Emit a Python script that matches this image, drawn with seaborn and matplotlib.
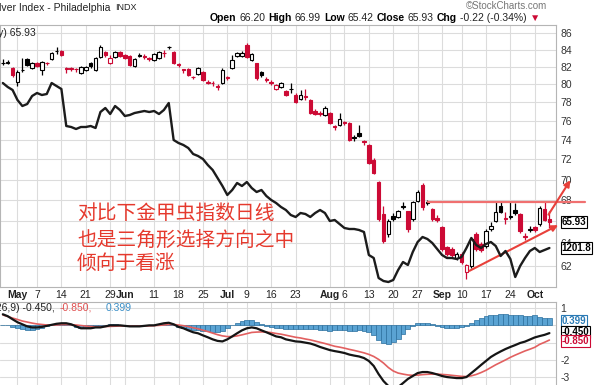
import matplotlib
matplotlib.use("Agg")
import matplotlib.pyplot as plt
import numpy as np
import pandas as pd
import seaborn as sns

# trading days on the chart (Apr 26 - Oct 4, 2018)
holidays = ["2018-05-28", "2018-07-04", "2018-09-03"]
dates = pd.bdate_range("2018-04-26", "2018-10-04")
dates = dates[~dates.isin(pd.to_datetime(holidays))]

opens = [82.4, 82.5, 81.86, 80.28, 81.6, 82.9, 81.86, 82.44, 81.64, 82.5, 82.9, 83.8, 83.84,
         81.9, 81.86, 81.8, 81.3, 81.64, 82.44, 81.64, 83.14, 83.72, 82.44, 83.14, 83.72, 83.37,
         83.25, 82.09, 83.3, 83.3, 83.0, 82.79, 83.02, 83.65, 84.3, 83.72, 82.3, 81.7, 81.75,
         80.9, 81.18, 81.41, 80.2, 80.2, 79.8, 80.17, 80.7, 81.86, 83.25, 83.3, 84.56, 82.79,
         82.44, 81.41, 80.6, 80.3, 79.5, 79.72, 79.28, 79.45, 78.84, 78.4, 78.7, 78.29, 77.1,
         76.9, 76.67, 76.88, 75.5, 75.6, 75.9, 75.81, 74.3, 74.76, 73.9, 73.51, 71.98, 69.8,
         66.66, 64.82, 66.47, 66.38, 67.35, 66.94, 66.19, 67.9, 69.51, 67.75, 67.13, 66.3, 65.46,
         63.65, 63.5, 62.7, 63.03, 61.5, 61.98, 64.82, 63.92, 63.74, 65.28, 66.01, 67.41, 66.3,
         66.45, 67.1, 66.66, 64.6, 65.2, 65.45, 65.8, 67.13, 66.20]
highs = [82.9, 82.8, 82.0, 81.6, 83.0, 83.0, 82.6, 82.6, 82.7, 82.6, 83.7, 84.3, 84.0,
         82.0, 82.0, 81.9, 82.1, 82.1, 82.6, 83.1, 84.6, 83.9, 83.37, 83.9, 83.9, 83.5,
         83.4, 83.0, 83.6, 83.5, 83.1, 83.6, 83.8, 84.0, 84.5, 83.8, 82.4, 81.8, 81.9,
         81.0, 82.0, 81.5, 80.5, 80.4, 80.0, 81.86, 81.0, 83.37, 83.7, 83.8, 84.8, 83.6,
         82.5, 81.5, 80.8, 80.5, 80.1, 80.3, 79.4, 80.17, 79.0, 79.4, 79.5, 78.4, 77.3,
         77.1, 77.6, 77.0, 75.6, 76.88, 76.0, 75.9, 74.5, 75.6, 74.0, 73.6, 72.1, 69.9,
         67.41, 66.2, 66.8, 67.1, 67.8, 67.0, 67.9, 69.0, 69.7, 68.0, 67.3, 66.6, 65.6,
         63.8, 63.7, 63.2, 63.2, 62.2, 64.6, 65.0, 64.1, 65.3, 65.9, 67.8, 67.8, 66.84,
         67.79, 67.7, 66.8, 64.9, 65.6, 65.6, 67.4, 67.79, 66.99]
lows = [82.2, 82.3, 80.9, 79.8, 81.4, 82.1, 81.8, 82.0, 81.07, 82.2, 82.8, 83.5, 83.3,
        81.3, 81.5, 81.4, 81.2, 81.5, 81.9, 81.5, 83.0, 83.2, 82.3, 83.0, 83.2, 82.9,
        82.1, 82.0, 83.1, 82.9, 82.7, 82.7, 82.9, 83.1, 84.1, 82.3, 82.0, 81.3, 81.0,
        80.6, 81.1, 80.4, 80.0, 79.8, 79.39, 80.0, 80.5, 81.7, 83.1, 83.2, 83.0, 82.7,
        80.5, 80.9, 80.3, 79.9, 79.4, 79.6, 78.7, 79.06, 77.9, 78.3, 78.3, 76.7, 76.6,
        76.5, 76.5, 75.7, 75.0, 75.5, 75.6, 73.9, 73.9, 74.3, 73.5, 71.5, 70.5, 66.0,
        64.0, 64.6, 66.0, 66.3, 67.2, 65.0, 66.0, 67.8, 67.1, 67.5, 66.0, 65.9, 63.3,
        62.9, 62.8, 62.5, 62.2, 60.86, 61.8, 63.3, 63.2, 63.6, 65.1, 65.9, 66.8, 65.73,
        66.2, 66.6, 64.9, 64.3, 65.0, 65.0, 65.6, 66.0, 65.42]
closes = [82.5, 82.55, 81.07, 81.41, 81.64, 82.2, 82.44, 82.1, 82.55, 82.4, 83.61, 83.84, 83.37,
          81.8, 81.75, 81.7, 81.98, 82.0, 82.1, 83.02, 84.33, 83.37, 83.02, 83.72, 83.3, 83.02,
          82.21, 82.9, 83.37, 83.2, 82.9, 83.49, 83.72, 83.6, 84.35, 82.44, 82.2, 81.6, 81.07,
          80.84, 81.86, 80.51, 80.28, 80.17, 79.72, 81.64, 80.84, 82.79, 83.61, 83.65, 83.14, 83.49,
          80.73, 81.07, 80.51, 80.17, 79.95, 80.17, 78.84, 79.5, 78.07, 78.8, 78.6, 76.88, 76.8,
          76.75, 77.42, 75.81, 75.39, 76.2, 75.81, 74.03, 74.2, 74.45, 73.82, 71.68, 70.68, 66.19,
          64.19, 66.01, 66.19, 66.94, 67.45, 65.28, 67.79, 68.83, 67.31, 67.79, 66.19, 66.1, 63.47,
          63.03, 63.0, 63.03, 62.3, 62.1, 64.37, 63.47, 63.4, 65.09, 65.55, 66.84, 66.9, 66.2,
          66.47, 66.8, 65.09, 64.7, 65.3, 65.25, 67.22, 66.15, 65.93]
chg_text = "-0.22 (-0.34%)"

# overlay line (gold price)
gold = [1333.8, 1330.6, 1328.2, 1320.2, 1315.4, 1317.0, 1323.4, 1325.8, 1324.2, 1325.0,
        1333.8, 1331.4, 1329.0, 1299.4, 1298.6, 1297.0, 1298.6, 1298.6, 1299.4, 1297.8,
        1310.6, 1313.8, 1309.0, 1315.4, 1312.2, 1307.4, 1308.2, 1309.8, 1310.6, 1311.4,
        1310.6, 1311.4, 1309.0, 1312.2, 1317.8, 1288.2, 1285.8, 1284.2, 1281.8, 1277.0,
        1275.4, 1273.0, 1268.2, 1264.2, 1257.8, 1251.4, 1244.2, 1248.2, 1253.8, 1251.4,
        1254.6, 1249.8, 1246.6, 1248.2, 1243.4, 1240.2, 1237.8, 1234.6, 1232.2, 1228.2,
        1226.6, 1229.8, 1229.0, 1226.6, 1229.8, 1232.2, 1229.8, 1223.4, 1224.2, 1221.0,
        1217.8, 1217.0, 1217.0, 1216.2, 1214.6, 1196.2, 1193.8, 1177.8, 1175.4, 1174.6,
        1176.2, 1184.2, 1190.6, 1188.2, 1198.6, 1206.6, 1210.6, 1209.0, 1205.8, 1201.0,
        1196.2, 1193.8, 1193.8, 1193.0, 1194.6, 1201.8, 1209.8, 1204.2, 1201.8, 1205.0,
        1206.6, 1203.4, 1195.4, 1199.4, 1193.0, 1178.6, 1187.4, 1193.8, 1199.4, 1201.8,
        1198.6, 1200.2, 1201.8]

macd = [0.64, 0.53, 0.35, 0.18, 0.06, -0.06, -0.12, -0.12, -0.09, -0.03, 0.03, 0.09, 0.12,
        0.12, 0.06, -0.06, -0.17, -0.17, -0.17, -0.12, -0.12, -0.06, 0.0, 0.0, 0.0, -0.03,
        -0.06, -0.06, -0.06, -0.03, 0.0, 0.0, 0.06, 0.12, 0.15, 0.06, -0.09, -0.17, -0.29,
        -0.4, -0.46, -0.58, -0.69, -0.81, -0.9, -0.93, -0.81, -0.64, -0.46, -0.29, -0.17, -0.12,
        -0.17, -0.29, -0.4, -0.52, -0.64, -0.69, -0.81, -0.87, -0.93, -0.95, -1.0, -1.05, -1.14,
        -1.25, -1.34, -1.43, -1.49, -1.54, -1.6, -1.69, -1.75, -1.8, -1.89, -2.06, -2.35, -2.82,
        -3.22, -3.51, -3.62, -3.57, -3.34, -3.1, -2.93, -2.76, -2.7, -2.7, -2.76, -2.84, -2.93,
        -2.99, -3.02, -3.05, -3.05, -2.99, -2.76, -2.53, -2.29, -2.06, -1.83, -1.66, -1.51, -1.37,
        -1.25, -1.14, -1.02, -0.94, -0.82, -0.7, -0.62, -0.55, -0.45]
signal = [0.6, 0.51, 0.42, 0.34, 0.25, 0.19, 0.13, 0.08, 0.05, 0.02, 0.02, 0.02, 0.04,
          0.04, 0.04, 0.02, -0.01, -0.04, -0.07, -0.08, -0.08, -0.07, -0.06, -0.05, -0.04, -0.04,
          -0.04, -0.04, -0.04, -0.04, -0.03, -0.02, 0.0, 0.02, 0.05, 0.05, 0.02, -0.02, -0.07,
          -0.14, -0.2, -0.28, -0.36, -0.45, -0.54, -0.61, -0.65, -0.65, -0.61, -0.55, -0.48, -0.41,
          -0.39, -0.38, -0.39, -0.42, -0.47, -0.51, -0.57, -0.63, -0.69, -0.73, -0.79, -0.84, -0.91,
          -0.98, -1.05, -1.13, -1.21, -1.26, -1.32, -1.39, -1.45, -1.52, -1.59, -1.68, -1.8, -1.97,
          -2.18, -2.44, -2.64, -2.76, -2.82, -2.87, -2.89, -2.88, -2.85, -2.83, -2.82, -2.82, -2.84,
          -2.86, -2.89, -2.92, -2.95, -2.96, -2.92, -2.84, -2.73, -2.6, -2.44, -2.28, -2.14, -2.0,
          -1.85, -1.72, -1.6, -1.48, -1.38, -1.27, -1.1, -0.98, -0.85]
macd_readout = [-0.450, -0.850, 0.399]

tick_labels = ["May", "7", "14", "21", "29", "Jun", "11", "18", "25", "Jul", "9", "16", "23",
               "Aug", "6", "13", "20", "27", "Sep", "10", "17", "24", "Oct"]
tick_dates = ["2018-05-01", "2018-05-07", "2018-05-14", "2018-05-21", "2018-05-29", "2018-06-01",
              "2018-06-11", "2018-06-18", "2018-06-25", "2018-07-02", "2018-07-09", "2018-07-16",
              "2018-07-23", "2018-08-01", "2018-08-06", "2018-08-13", "2018-08-20", "2018-08-27",
              "2018-09-04", "2018-09-10", "2018-09-17", "2018-09-24", "2018-10-01"]
months = ["May", "Jun", "Jul", "Aug", "Sep", "Oct"]
price_ticks = list(range(62, 87, 2))
hidden_price_labels = [66]   # covered by the last-close tag

# drawn-in lines: resistance level and rising support (index, value)
resistance = 67.83
support = [(95.1, 61.46), (114.3, 65.77)]
breakout = [(111.5, 66.41), (116.6, 70.16)]

notes = ["对比下金甲虫指数日线", "也是三角形选择方向之中", "倾向于看涨"]

RED = "#cc0a35"
NOTE_RED = "#e5392d"
GRID = "#dcdcdc"

sns.set_style("white")
plt.rcParams["font.family"] = ["Liberation Sans", "Noto Sans CJK SC", "DejaVu Sans"]

W, H = 600, 385
fig = plt.figure(figsize=(6, 3.85), dpi=100)

def fx(px):
    return px / W

def fy(py):
    return 1 - py / H

ax = fig.add_axes([0, fy(287), fx(556), fy(25) - fy(287)])
axm = fig.add_axes([0, 0, fx(556), fy(302)], sharex=ax)

x = np.arange(len(dates))
df = pd.DataFrame({"x": x, "open": opens, "high": highs, "low": lows, "close": closes,
                   "gold": gold, "macd": macd, "signal": signal})
df["hist"] = df["macd"] - df["signal"]
prev = df["close"].shift(1).fillna(df["open"])
cols = np.where(df["close"] >= prev, "black", RED)
hollow = df["close"] > df["open"]

ax.set_yscale("log")
ax.set_ylim(60.19, 86.97)
ax.set_xlim(-0.58, 113.35)

tick_idx = dates.get_indexer(pd.to_datetime(tick_dates))
for a in (ax, axm):
    for t in tick_idx:
        a.axvline(t, color=GRID, lw=0.8, zorder=0)
for v in price_ticks:
    ax.axhline(v, color=GRID, lw=0.8, zorder=0)

# candles
ax.vlines(df["x"], df["low"], df["high"], colors=cols, lw=0.9, zorder=2)
body_lo = np.minimum(df["open"], df["close"])
body_h = np.maximum(np.abs(df["close"] - df["open"]), 0.02)
ax.bar(df["x"], body_h, bottom=body_lo, width=0.72,
       color=np.where(hollow, "white", cols), edgecolor=cols, lw=0.8, zorder=3)

# gold overlay on its own hidden scale
ax2 = ax.twinx()
sns.lineplot(data=df, x="x", y="gold", ax=ax2, color="#1c1c1c", lw=1.7, zorder=4)
ax2.set_ylim(1170.6, 1380.2)
ax2.set_yticks([])
ax2.set_ylabel("")
ax2.set_xlabel("")
for s in ax2.spines.values():
    s.set_visible(False)

# price axis on the right (after twinx, which moves ticks left)
ax.yaxis.tick_right()
ax.yaxis.set_minor_locator(matplotlib.ticker.NullLocator())
ax.yaxis.set_minor_formatter(matplotlib.ticker.NullFormatter())
ax.set_yticks(price_ticks)
ax.set_yticklabels(["" if v in hidden_price_labels else str(v) for v in price_ticks])
ax.tick_params(axis="y", which="both", length=0, pad=3, labelsize=7.5, labelcolor="#333333",
               left=False, labelleft=False, right=True, labelright=True)
ax.set_xticks(tick_idx)
ax.set_xticklabels(tick_labels)
ax.tick_params(axis="x", length=0, pad=2.5, labelsize=7.5, labelcolor="#222222")
for lab in ax.get_xticklabels():
    if lab.get_text() in months:
        lab.set_fontweight("bold")
for s in ["left", "top", "bottom", "right"]:
    ax.spines[s].set_color("#b5b5b5")
    ax.spines[s].set_linewidth(0.8)

# drawn lines
ax.plot([87.1, 119.3], [resistance, resistance], color="#f07070", lw=1.6,
        clip_on=False, zorder=6)
ax.annotate("", xy=support[1], xytext=support[0], zorder=6, annotation_clip=False,
            arrowprops=dict(arrowstyle="-|>", color="#e8403a", lw=1.5, mutation_scale=9))
ax.annotate("", xy=breakout[1], xytext=breakout[0], zorder=6, annotation_clip=False,
            arrowprops=dict(arrowstyle="-|>", color="#e8403a", lw=1.5, mutation_scale=9))

# MACD panel
axm.bar(df["x"], df["hist"], width=1.0, color="#5aa3d3", edgecolor="#2a6f9e", lw=0.5, zorder=2)
sns.lineplot(data=df, x="x", y="signal", ax=axm, color="#e26060", lw=1.2, zorder=3)
sns.lineplot(data=df, x="x", y="macd", ax=axm, color="#151515", lw=1.6, zorder=4)
axm.set_ylim(-3.45, 1.35)
for v in [1, 0, -1, -2, -3]:
    axm.axhline(v, color=GRID, lw=0.8, zorder=0)
axm.yaxis.tick_right()
axm.set_yticks([1, -2, -3])
axm.set_yticklabels(["1", "-2", "-3"])
axm.tick_params(axis="y", length=0, pad=3, labelsize=7.5, labelcolor="#333333")
axm.tick_params(axis="x", length=0, labelbottom=False)
axm.set_xlabel("")
axm.set_ylabel("")
for s in ["left", "bottom"]:
    axm.spines[s].set_visible(False)
for s in ["top", "right"]:
    axm.spines[s].set_color("#b5b5b5")
    axm.spines[s].set_linewidth(0.8)

# value tags on the right edge
def tag(a, val, txt, color, dy=0):
    a.annotate(txt, xy=(1.0, val), xycoords=("axes fraction", "data"),
               xytext=(4, dy), textcoords="offset points", va="center", ha="left",
               fontsize=7, fontweight="bold", color=color, annotation_clip=False, zorder=10,
               bbox=dict(boxstyle="square,pad=0.1", fc="white", ec=color, lw=0.8))

tag(ax, closes[-1], f"{closes[-1]:.2f}", "black")
tag(ax2, gold[-1], f"{gold[-1]:.1f}", "black")
tag(axm, macd_readout[2], f"{macd_readout[2]:.3f}", "#2a7ab5", dy=-1.5)
tag(axm, macd_readout[0], f"{macd_readout[0]:.3f}", "black", dy=1)
tag(axm, macd_readout[1], f"{macd_readout[1]:.3f}", RED, dy=-1)

# header texts
fig.canvas.draw()
rend = fig.canvas.get_renderer()

def chain(parts, x0, y0, size, gap=3):
    xp = x0
    for s, w, c in parts:
        t = fig.text(fx(xp), fy(y0), s, fontsize=size, fontweight=w, color=c, va="center")
        xp += t.get_window_extent(rend).width + gap

fig.text(fx(110), fy(8), "Gold/Silver Index - Philadelphia", ha="right", va="center",
         fontsize=7.5, color="#222222")
fig.text(fx(115), fy(8), "INDX", ha="left", va="center", fontsize=6.5, color="#222222")
fig.text(fx(547), fy(6), "©StockCharts.com", ha="right", va="center", fontsize=7,
         color="#777777")
chain([("Open", "bold", "black"), (f"{opens[-1]:.2f}", "normal", "#222222"),
       ("High", "bold", "black"), (f"{highs[-1]:.2f}", "normal", "#222222"),
       ("Low", "bold", "black"), (f"{lows[-1]:.2f}", "normal", "#222222"),
       ("Close", "bold", "black"), (f"{closes[-1]:.2f}", "normal", "#222222"),
       ("Chg", "bold", "black"), (chg_text, "normal", "#222222"),
       ("▼", "normal", RED)], 210, 18, 7.5)
fig.text(fx(36), fy(33), "$XAU (Daily) " + f"{closes[-1]:.2f}", ha="right", va="center",
         fontsize=7.5, color="#222222")

# MACD legend
fig.text(fx(55), fy(308), f"MACD(12,26,9) {macd_readout[0]:.3f},", ha="right", va="center",
         fontsize=7.5, color="#222222")
fig.text(fx(60), fy(308), f"{macd_readout[1]:.3f},", ha="left", va="center",
         fontsize=7.5, color="#e05050")
fig.text(fx(106), fy(308), f"{macd_readout[2]:.3f}", ha="left", va="center",
         fontsize=7.5, color="#3a8fc8")

# chinese notes
for s, yy in zip(notes, [213, 240, 263]):
    fig.text(fx(77), fy(yy), s, ha="left", va="center", fontsize=14.2, color=NOTE_RED,
             family=["Noto Sans CJK SC", "DejaVu Sans"])

fig.savefig("out.png", dpi=100)
